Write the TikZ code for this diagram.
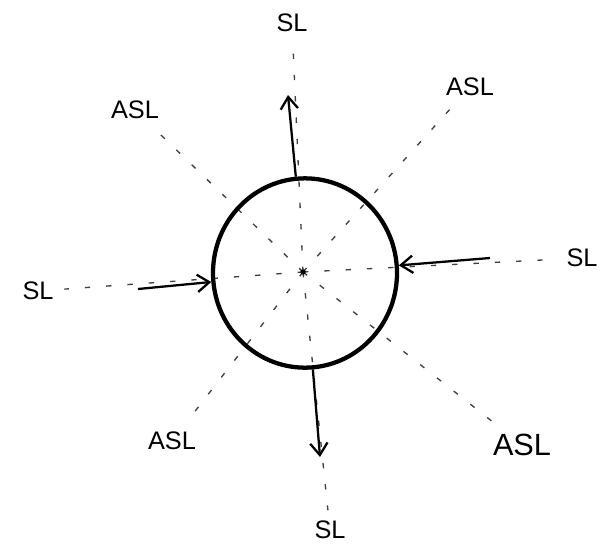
\documentclass[tikz,border=0pt]{standalone}
\usepackage{fontspec}
\setmainfont{Liberation Sans}
\usetikzlibrary{arrows.meta,shapes.geometric}
\begin{document}
\begin{tikzpicture}[x=0.75pt,y=-0.75pt,
  lbl/.style={font=\fontsize{19}{21}\selectfont, inner sep=2pt},
  biglbl/.style={font=\fontsize{23}{25}\selectfont, inner sep=2pt},
  dashline/.style={line width=1pt, black!75, dash pattern=on 4pt off 12pt, shorten >=6pt},
  arr/.style={line width=1.7pt, -{Straight Barb[length=9pt,width=13pt,line width=1.7pt]}},
  cellstyle/.style={ellipse, draw, line width=3.2pt, minimum width=138pt, minimum height=142pt, inner sep=0pt}]
\useasboundingbox (0,0) rectangle (606,554);
% labels
\node[lbl] (slT) at (292,23) {SL};
\node[lbl] (slR) at (582,258) {SL};
\node[lbl] (slB) at (330,530) {SL};
\node[lbl] (slL) at (38,291) {SL};
\node[lbl] (aslTR) at (470,87) {ASL};
\node[lbl] (aslTL) at (135,110) {ASL};
\node[lbl] (aslBL) at (172,441) {ASL};
\node[biglbl] (aslBR) at (522,445) {ASL};
\coordinate (ctr) at (303,272);
% dashed rays
\foreach \t in {slT,slR,slB,slL,aslTR,aslTL,aslBL,aslBR}
  \draw[dashline] (ctr) -- (\t);
% cell
\node[cellstyle] (cell) at (305,273) {};
\fill (ctr) circle (2pt);
% arrows
\coordinate (inR) at (490,258);
\coordinate (inL) at (138,289);
\coordinate (outT) at (288,95);
\coordinate (outB) at (320,457);
\draw[arr] (inR) -- (cell);
\draw[arr] (inL) -- (cell);
\draw[arr] (cell) -- (outT);
\draw[arr] (cell) -- (outB);
\end{tikzpicture}
\end{document}
